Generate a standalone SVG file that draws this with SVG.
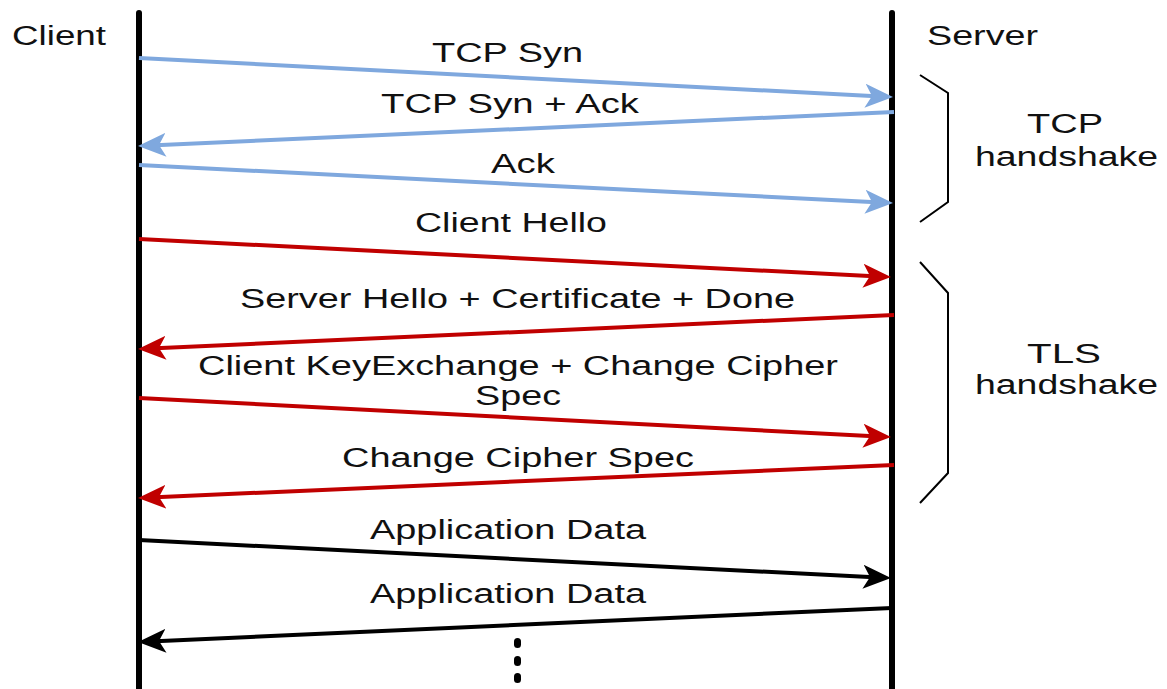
<svg xmlns="http://www.w3.org/2000/svg" width="1167" height="689" viewBox="0 0 1167 689">
  <style>
    .lbl { font-family: "Liberation Sans", Arial, sans-serif; font-size: 27px; fill: #111; }
    .life { stroke: #000; stroke-width: 6; fill: none; }
    .msg { fill: none; stroke-width: 4; }
    .tcp { stroke: #7fa8de; marker-end: url(#headBlue); }
    .tls { stroke: #c00000; marker-end: url(#headRed); }
    .app { stroke: #000; marker-end: url(#headBlack); }
    .brace { fill: none; stroke: #000; stroke-width: 2; }
  </style>
  <defs>
    <marker id="headBlue" viewBox="0 0 28 24" markerWidth="28" markerHeight="24" refX="16" refY="12" orient="auto" markerUnits="userSpaceOnUse">
      <path d="M0,0 L28,12 L0,24 L7,12 Z" fill="#7fa8de"/>
    </marker>
    <marker id="headRed" viewBox="0 0 28 24" markerWidth="28" markerHeight="24" refX="16" refY="12" orient="auto" markerUnits="userSpaceOnUse">
      <path d="M0,0 L28,12 L0,24 L7,12 Z" fill="#c00000"/>
    </marker>
    <marker id="headBlack" viewBox="0 0 28 24" markerWidth="28" markerHeight="24" refX="16" refY="12" orient="auto" markerUnits="userSpaceOnUse">
      <path d="M0,0 L28,12 L0,24 L7,12 Z" fill="#000"/>
    </marker>
  </defs>

  <rect width="1167" height="689" fill="#fff"/>

  <!-- lifelines -->
  <g id="client">
    <line class="life" x1="139" y1="13" x2="139" y2="689" stroke-linecap="round"/>
    <text class="lbl" x="12" y="45" textLength="94" lengthAdjust="spacingAndGlyphs">Client</text>
  </g>
  <g id="server">
    <line class="life" x1="892" y1="13" x2="892" y2="689" stroke-linecap="round"/>
    <text class="lbl" x="927" y="45" textLength="111" lengthAdjust="spacingAndGlyphs">Server</text>
  </g>

  <!-- messages -->
  <g id="connectors">
    <line class="msg tcp" x1="139" y1="58" x2="881" y2="96.5"/>
    <line class="msg tcp" x1="894" y1="112" x2="150" y2="145.5"/>
    <line class="msg tcp" x1="139" y1="165" x2="881" y2="202.5"/>
    <line class="msg tls" x1="139" y1="239" x2="879" y2="276.5"/>
    <line class="msg tls" x1="894" y1="315" x2="150" y2="348.5"/>
    <line class="msg tls" x1="139" y1="398" x2="879" y2="436.5"/>
    <line class="msg tls" x1="894" y1="465" x2="150" y2="497.5"/>
    <line class="msg app" x1="139" y1="540" x2="879" y2="577.5"/>
    <line class="msg app" x1="892" y1="608" x2="150" y2="641.5"/>
  </g>

  <!-- message labels -->
  <g id="labels">
    <text class="lbl" x="432" y="62" textLength="151" lengthAdjust="spacingAndGlyphs">TCP Syn</text>
    <text class="lbl" x="381" y="113" textLength="258" lengthAdjust="spacingAndGlyphs">TCP Syn + Ack</text>
    <text class="lbl" x="491" y="173" textLength="64" lengthAdjust="spacingAndGlyphs">Ack</text>
    <text class="lbl" x="415" y="232" textLength="192" lengthAdjust="spacingAndGlyphs">Client Hello</text>
    <text class="lbl" x="240" y="308" textLength="555" lengthAdjust="spacingAndGlyphs">Server Hello + Certificate + Done</text>
    <text class="lbl" x="198" y="375" textLength="640" lengthAdjust="spacingAndGlyphs">Client KeyExchange + Change Cipher</text>
    <text class="lbl" x="475" y="405" textLength="86" lengthAdjust="spacingAndGlyphs">Spec</text>
    <text class="lbl" x="342" y="467" textLength="352" lengthAdjust="spacingAndGlyphs">Change Cipher Spec</text>
    <text class="lbl" x="370" y="539" textLength="276" lengthAdjust="spacingAndGlyphs">Application Data</text>
    <text class="lbl" x="370" y="603" textLength="276" lengthAdjust="spacingAndGlyphs">Application Data</text>
  </g>

  <!-- continuation dots -->
  <g id="more" fill="#000">
    <rect x="514" y="638" width="7" height="10" rx="3.5"/>
    <rect x="514" y="656" width="7" height="10" rx="3.5"/>
    <rect x="514" y="673" width="7" height="10" rx="3.5"/>
  </g>

  <!-- phase braces -->
  <g id="tcp-handshake">
    <path class="brace" d="M920,75 L948,93 L948,202 L920,222"/>
    <text class="lbl" x="1027" y="133" textLength="76" lengthAdjust="spacingAndGlyphs">TCP</text>
    <text class="lbl" x="975" y="166" textLength="183" lengthAdjust="spacingAndGlyphs">handshake</text>
  </g>
  <g id="tls-handshake">
    <path class="brace" d="M920,262 L948,293 L948,473 L920,503"/>
    <text class="lbl" x="1027" y="363" textLength="74" lengthAdjust="spacingAndGlyphs">TLS</text>
    <text class="lbl" x="975" y="394" textLength="183" lengthAdjust="spacingAndGlyphs">handshake</text>
  </g>
</svg>
